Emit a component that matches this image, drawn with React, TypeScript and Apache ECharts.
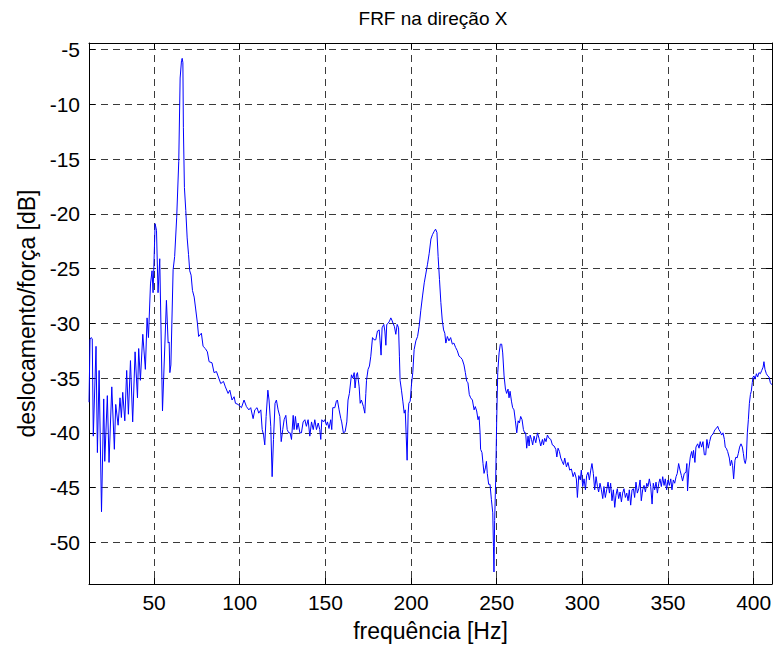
import React, { useEffect, useRef } from "react";
import * as echarts from "echarts";

// Tick values
const xTicks = [50, 100, 150, 200, 250, 300, 350, 400];
const yTicks = [-50, -45, -40, -35, -30, -25, -20, -15, -10, -5];

const X_MIN = 12;
const X_MAX = 410.7;
const Y_MIN = -53.8;
const Y_MAX = -4.4;

// [frequency Hz, amplitude dB]
const bandLow = [
  [12.0, -37.2], [12.6, -31.5], [13.2, -31.3], [13.9, -31.4], [14.5, -40.3],
  [16.1, -32.1], [16.9, -41.8], [17.9, -34.3], [19.3, -47.2], [20.6, -36.9],
  [21.2, -42.6], [22.7, -36.6], [23.7, -42.7], [25.3, -35.8], [26.8, -41.5],
  [27.6, -37.4], [29.0, -39.3], [30.1, -36.8], [30.9, -38.6], [31.7, -36.3],
  [32.9, -38.9], [34.0, -34.3], [35.0, -38.3], [36.2, -33.4], [37.5, -39.0],
  [38.9, -32.6], [40.3, -36.8], [41.0, -32.3], [42.0, -35.2], [43.4, -31.0],
  [44.9, -34.2], [45.9, -29.5], [46.7, -31.3], [47.9, -26.4], [48.8, -25.2],
  [49.4, -27.2], [50.6, -20.9], [51.4, -21.5], [52.3, -27.2], [53.3, -24.1],
  [54.9, -38.0], [57.2, -27.9], [58.2, -31.8], [58.8, -31.7], [59.2, -34.5],
  [59.8, -33.8], [61.1, -25.1], [62.0, -23.9], [63.2, -20.3], [64.4, -15.2],
  [65.2, -7.6], [66.0, -6.0], [66.4, -5.8], [66.8, -6.2], [67.1, -12.1],
  [67.7, -17.6], [68.5, -19.7], [69.3, -22.2], [70.1, -23.7], [70.8, -25.2],
  [71.6, -25.6], [72.4, -27.0], [73.4, -27.6],
];

const bandMid = [
  [74.2, -28.6], [75.3, -30.0], [76.0, -31.2], [77.6, -30.9], [78.6, -32.1],
  [79.9, -32.3], [81.1, -32.6], [82.1, -33.5], [83.8, -33.6], [85.0, -34.5],
  [86.4, -34.4], [87.3, -34.8], [88.9, -35.5], [90.5, -35.3], [91.6, -35.8],
  [93.2, -36.4], [94.2, -36.1], [95.5, -37.0], [96.7, -36.7], [97.5, -37.3],
  [99.0, -37.4], [101.0, -37.7], [102.5, -37.0], [103.9, -37.6], [105.3, -37.9],
  [106.4, -37.7], [107.8, -38.7], [108.8, -37.9], [110.1, -37.7], [111.1, -38.2],
  [112.3, -37.9], [113.1, -39.7], [113.9, -40.2], [114.6, -41.1], [115.4, -38.5],
  [116.4, -36.1], [117.1, -37.0], [118.1, -39.4], [118.9, -44.0], [119.7, -40.6],
  [120.6, -37.3], [121.4, -37.0], [122.4, -37.9], [123.4, -38.5], [124.2, -40.8],
  [125.1, -39.7], [125.9, -38.8], [126.9, -38.4], [127.7, -39.7], [128.6, -40.0],
  [129.4, -40.0], [130.2, -40.6], [131.2, -38.4], [131.7, -39.7], [132.5, -38.5],
  [133.3, -39.7], [134.1, -39.1], [135.1, -40.0], [136.0, -40.0], [137.0, -39.0],
  [138.0, -38.8], [138.9, -39.4], [139.9, -38.8], [140.9, -40.3], [141.9, -39.0],
  [142.9, -39.7], [143.8, -38.8], [144.8, -39.7], [145.8, -39.1], [146.7, -39.7],
  [147.3, -40.6], [147.9, -38.8], [148.8, -39.0], [149.6, -38.8], [150.6, -39.3],
  [151.2, -39.0], [152.1, -39.6], [153.1, -38.8], [153.7, -39.7], [154.3, -37.7],
  [155.5, -37.7], [156.4, -37.1], [157.0, -37.0], [158.0, -37.9], [159.0, -38.7],
  [159.5, -39.0], [160.5, -40.0], [161.5, -39.9], [162.5, -39.0], [163.2, -37.0],
  [164.0, -36.4], [165.2, -34.7], [166.0, -35.0], [166.8, -34.5], [167.3, -35.9],
  [168.1, -34.7], [168.7, -34.5], [169.7, -35.8], [170.3, -37.3], [171.0, -37.0],
  [172.2, -37.6], [173.0, -38.2], [173.6, -36.4], [174.0, -35.2], [174.9, -34.2],
  [175.7, -33.9], [176.5, -33.0], [177.5, -31.3], [178.4, -31.5], [179.4, -31.5],
  [180.4, -30.7], [181.4, -30.6], [181.9, -31.6], [182.5, -32.9], [183.1, -30.4],
  [184.1, -30.1], [184.7, -30.7], [185.3, -32.0], [185.8, -30.1], [186.6, -30.0],
  [187.4, -29.8], [188.2, -29.5], [188.8, -29.7], [189.5, -30.0], [190.3, -30.3],
  [191.1, -31.0], [191.9, -30.1], [192.7, -30.4], [193.2, -33.0], [193.6, -35.2],
  [194.4, -36.1], [195.2, -37.1], [196.0, -38.2], [196.6, -37.9], [197.1, -40.0],
  [197.7, -42.5], [198.3, -38.2], [198.7, -37.3], [199.5, -37.1], [200.3, -35.5],
  [201.0, -34.5], [201.8, -32.4], [202.8, -31.6], [203.8, -31.2], [204.7, -30.3],
  [205.7, -28.8], [206.7, -27.5], [207.7, -26.3], [208.6, -25.5], [209.6, -24.6],
  [210.6, -23.6], [211.6, -22.3], [212.5, -21.9], [213.5, -21.6], [214.3, -21.4],
  [215.1, -21.7], [215.8, -23.9], [216.6, -26.0], [217.4, -28.1], [218.2, -29.7],
  [219.0, -30.6], [219.7, -30.9], [220.3, -31.8],
];

const bandHigh = [
  [221.2, -31.2], [222.1, -31.6], [223.1, -31.3], [224.1, -31.9], [225.0, -31.8],
  [226.0, -32.2], [227.0, -32.5], [228.0, -33.0], [228.9, -33.1], [229.9, -33.3],
  [230.9, -33.8], [231.7, -34.5], [232.5, -35.3], [233.2, -35.4], [234.0, -36.5],
  [234.8, -36.8], [235.8, -37.0], [236.8, -37.9], [237.5, -37.6], [238.3, -38.0],
  [239.1, -38.8], [239.7, -38.5], [240.3, -40.0], [240.6, -41.5], [241.4, -41.8],
  [242.0, -42.8], [242.6, -43.7], [243.4, -43.2], [244.0, -42.6], [244.5, -43.7],
  [245.3, -44.7], [246.1, -44.7], [246.9, -46.1], [247.7, -47.3], [248.1, -50.4],
  [248.4, -52.7], [248.8, -48.0], [249.4, -44.3], [250.0, -38.8], [250.6, -34.5],
  [251.4, -32.7], [252.1, -31.9], [252.9, -31.9], [253.5, -32.7], [254.3, -34.8],
  [255.1, -36.0], [255.8, -36.4], [256.6, -36.0], [257.2, -36.8], [257.8, -36.2],
  [258.6, -37.1], [259.3, -37.7], [260.1, -37.9], [260.9, -38.9], [261.7, -40.0],
  [262.5, -38.9], [263.2, -39.1], [264.0, -38.5], [264.8, -38.8], [265.6, -39.7],
  [266.3, -40.0], [266.9, -40.0], [267.5, -41.4], [268.3, -40.3], [268.9, -41.2],
  [269.5, -40.2], [270.3, -40.6], [271.0, -41.1], [271.8, -40.3], [272.8, -40.9],
  [273.8, -40.0], [274.7, -40.5], [275.7, -41.2], [276.7, -40.6], [277.3, -41.1],
  [278.0, -40.5], [278.8, -40.8], [279.6, -40.2], [280.6, -40.5], [281.6, -40.6],
  [282.5, -41.1], [283.5, -41.2], [284.5, -41.5], [285.1, -42.2], [285.8, -41.4],
  [286.6, -41.7], [287.4, -42.3], [288.2, -42.6], [289.0, -42.9], [289.7, -42.3],
  [290.7, -43.1], [291.6, -42.7], [292.6, -43.4], [293.6, -43.3], [294.6, -44.0],
  [295.5, -43.6], [296.5, -44.2], [297.1, -45.9], [297.9, -43.9], [298.8, -44.3],
  [299.4, -43.4], [300.2, -44.9], [301.0, -44.2], [301.8, -45.2], [302.5, -43.9],
  [303.3, -43.6], [304.1, -44.3], [304.9, -43.4], [305.6, -42.8], [306.4, -43.7],
  [307.2, -45.2], [308.0, -44.0], [308.8, -44.9], [309.5, -45.4], [310.3, -44.6],
  [311.1, -45.2], [311.9, -46.0], [312.6, -44.9], [313.4, -45.9], [314.2, -45.2],
  [315.0, -44.5], [315.8, -45.5], [316.5, -44.6], [317.3, -46.2], [318.1, -45.2],
  [318.9, -46.8], [319.6, -45.7], [320.4, -45.1], [321.2, -46.0], [322.0, -45.4],
  [322.8, -46.3], [323.5, -45.5], [324.3, -45.1], [325.1, -45.9], [325.9, -45.5],
  [326.7, -46.2], [327.4, -45.2], [328.2, -46.6], [329.0, -45.2], [329.8, -45.1],
  [330.5, -45.9], [331.3, -44.5], [332.1, -45.5], [332.9, -45.1], [333.7, -44.3],
  [334.4, -46.2], [335.2, -45.2], [336.0, -44.8], [336.8, -45.4], [337.6, -44.6],
  [338.3, -44.9], [339.1, -44.2], [339.9, -44.9], [340.7, -46.5], [341.4, -44.6],
  [342.2, -45.2], [343.0, -44.5], [343.8, -45.5], [344.6, -44.6], [345.3, -44.2],
  [346.1, -44.9], [346.9, -44.0], [347.7, -44.8], [348.4, -44.2], [349.2, -45.2],
  [350.0, -44.3], [350.8, -44.8], [351.6, -44.2], [352.3, -45.2], [353.1, -44.3],
  [353.9, -44.6], [354.7, -44.0], [355.4, -43.7], [356.2, -42.8], [357.0, -43.4],
  [357.8, -43.9], [358.5, -44.4], [359.5, -43.7], [360.5, -43.6], [361.0, -42.8],
  [361.4, -45.3], [362.2, -43.3], [363.0, -42.2], [363.8, -41.7], [364.4, -42.3],
  [364.9, -41.6], [365.7, -42.7], [366.3, -41.3], [367.3, -41.0], [368.1, -41.4],
  [368.8, -40.8], [369.6, -41.3], [370.4, -40.8], [371.2, -42.0], [372.0, -42.0],
  [372.7, -40.6], [373.5, -41.4], [374.3, -40.8], [375.1, -40.3], [375.8, -40.2],
  [376.6, -40.0], [377.4, -39.7], [378.2, -39.6], [379.0, -39.4], [379.7, -39.7],
  [380.5, -39.9], [381.3, -40.2], [382.1, -40.0], [382.9, -40.6], [383.4, -41.3],
  [384.0, -41.4], [384.8, -41.7], [385.8, -42.3], [386.4, -43.0], [387.1, -42.5],
  [387.7, -43.0], [388.3, -44.2], [389.1, -42.5], [389.7, -42.2], [390.3, -42.3],
  [391.0, -41.9], [391.8, -41.3], [392.6, -41.0], [393.4, -41.3], [394.0, -41.9],
  [394.5, -42.5], [395.1, -42.8], [395.7, -42.3], [396.3, -40.0], [396.9, -38.8],
  [397.5, -37.3], [398.1, -36.5], [398.6, -36.2], [399.2, -35.4], [399.6, -34.9],
  [400.2, -34.8], [400.8, -35.1], [401.6, -34.6], [402.3, -34.9], [403.1, -34.5],
  [403.9, -34.6], [404.7, -34.3], [405.5, -34.0], [406.0, -33.5], [406.6, -34.2],
  [407.4, -34.6], [408.2, -34.8], [409.0, -34.9], [409.7, -35.4], [410.5, -35.6],
];

const TITLE = "FRF na direção X";
const X_NAME = "frequência [Hz]";
const Y_NAME = "deslocamento/força [dB]";

const FONT = "'Liberation Sans', Arial, Helvetica, sans-serif";
const TICK_FONT = 21;
const NAME_FONT = 23;
const TITLE_FONT = 19;

export default function App() {
  const ref = useRef<HTMLDivElement>(null);

  useEffect(() => {
    if (!ref.current) return;
    const chart = echarts.init(ref.current, undefined, { renderer: "svg" });
    const data = [...bandLow, ...bandMid, ...bandHigh];
    const gridLine = { show: true, lineStyle: { type: [7, 5], color: "#3a3a3a", width: 1 } };
    const axisLine = { show: true, onZero: false, lineStyle: { color: "#000", width: 1 } };

    chart.setOption({
      animation: false,
      backgroundColor: "#ffffff",
      textStyle: { fontFamily: FONT },
      grid: { left: 89, right: 4, top: 43, bottom: 66, containLabel: false },
      graphic: [
        {
          type: "text",
          x: 433,
          y: 18,
          style: {
            text: TITLE,
            fill: "#000",
            font: `${TITLE_FONT}px ${FONT}`,
            align: "center",
            verticalAlign: "middle",
            textAlign: "center",
            textVerticalAlign: "middle",
          },
        },
      ],
      xAxis: [
        {
          type: "value",
          position: "bottom",
          min: X_MIN,
          max: X_MAX,
          axisLine,
          axisTick: { show: true, inside: true, length: 6, customValues: xTicks, lineStyle: { color: "#000" } },
          axisLabel: { customValues: xTicks, fontSize: TICK_FONT, color: "#000", margin: 8, fontFamily: FONT },
          splitLine: gridLine,
          name: X_NAME,
          nameLocation: "middle",
          nameGap: 35,
          nameTextStyle: { fontSize: NAME_FONT, color: "#000", fontFamily: FONT },
        },
        {
          type: "value",
          position: "top",
          min: X_MIN,
          max: X_MAX,
          axisLine,
          axisTick: { show: true, inside: true, length: 6, customValues: xTicks, lineStyle: { color: "#000" } },
          axisLabel: { show: false },
          splitLine: { show: false },
        },
      ],
      yAxis: [
        {
          type: "value",
          position: "left",
          min: Y_MIN,
          max: Y_MAX,
          axisLine,
          axisTick: { show: true, inside: true, length: 6, customValues: yTicks, lineStyle: { color: "#000" } },
          axisLabel: { customValues: yTicks, fontSize: TICK_FONT, color: "#000", margin: 9, fontFamily: FONT },
          splitLine: gridLine,
          name: Y_NAME,
          nameLocation: "middle",
          nameGap: 34,
          nameTextStyle: { fontSize: NAME_FONT, color: "#000", fontFamily: FONT },
        },
        {
          type: "value",
          position: "right",
          min: Y_MIN,
          max: Y_MAX,
          axisLine,
          axisTick: { show: true, inside: true, length: 6, customValues: yTicks, lineStyle: { color: "#000" } },
          axisLabel: { show: false },
          splitLine: { show: false },
        },
      ],
      series: [
        {
          type: "line",
          xAxisIndex: 0,
          yAxisIndex: 0,
          data,
          showSymbol: false,
          symbol: "none",
          clip: true,
          lineStyle: { color: "#0000ff", width: 1 },
        },
      ],
    });

    return () => chart.dispose();
  }, []);

  return (
    <div
      ref={ref}
      style={{ position: "absolute", left: 0, top: 0, width: 776, height: 650, background: "#fff" }}
    />
  );
}
